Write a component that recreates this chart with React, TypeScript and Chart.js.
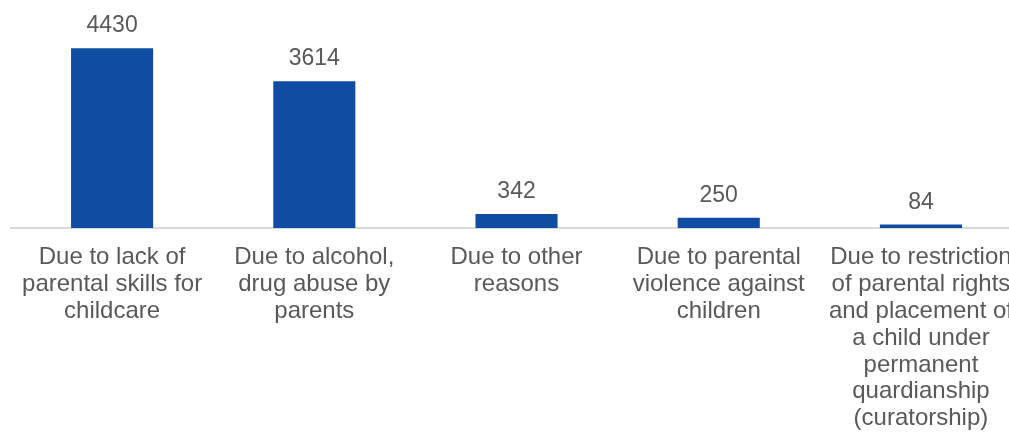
import React, { useEffect, useRef } from "react";
import { Chart, registerables } from "chart.js";

Chart.register(...registerables);

const categories: string[][] = [
  ["Due to lack of", "parental skills for", "childcare"],
  ["Due to alcohol,", "drug abuse by", "parents"],
  ["Due to other", "reasons"],
  ["Due to parental", "violence against", "children"],
  ["Due to restriction", "of parental rights", "and placement of", "a child under", "permanent", "quardianship", "(curatorship)"],
];
const values: number[] = [4430, 3614, 342, 250, 84];

const FONT = "'Liberation Sans', Arial, sans-serif";
const TEXT = "#595959";
const BAR = "#0e4da1";

const valueLabels = {
  id: "valueLabels",
  afterDatasetsDraw(chart: any) {
    const ctx = chart.ctx;
    const meta = chart.getDatasetMeta(0);
    ctx.save();
    ctx.font = `23px ${FONT}`;
    ctx.fillStyle = TEXT;
    ctx.textAlign = "center";
    ctx.textBaseline = "alphabetic";
    meta.data.forEach((el: any, i: number) => {
      ctx.fillText(String(values[i]), el.x, el.y - 16);
    });
    ctx.restore();
  },
};

export default function App() {
  const ref = useRef<HTMLCanvasElement | null>(null);
  useEffect(() => {
    if (!ref.current) return;
    const chart = new Chart(ref.current, {
      type: "bar",
      data: {
        labels: categories,
        datasets: [
          {
            data: values,
            backgroundColor: BAR,
            borderWidth: 0,
            barPercentage: 0.406,
            categoryPercentage: 1,
          },
        ],
      },
      options: {
        responsive: false,
        animation: false,
        layout: { padding: { left: 11, top: 25, right: 0, bottom: 0 } },
        plugins: { legend: { display: false }, tooltip: { enabled: false } },
        scales: {
          y: { display: false, min: 0, max: 5000 },
          x: {
            offset: true,
            grid: { display: false, drawTicks: false },
            border: { display: true, color: "#d9d9d9", width: 2 },
            ticks: {
              autoSkip: false,
              maxRotation: 0,
              minRotation: 0,
              padding: 16,
              color: TEXT,
              font: { family: FONT, size: 24, lineHeight: 1.12 },
            },
            afterFit: (scale: any) => {
              scale.height = 204;
            },
          },
        },
      },
      plugins: [valueLabels],
    });
    return () => chart.destroy();
  }, []);
  return (
    <div style={{ position: "fixed", left: 0, top: 0, width: "100vw", height: "100vh", overflow: "hidden", background: "#fff" }}>
      <canvas ref={ref} width={1029} height={432} style={{ display: "block" }} />
    </div>
  );
}
